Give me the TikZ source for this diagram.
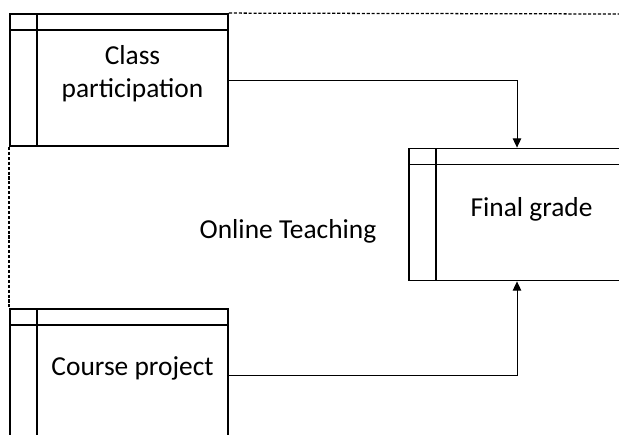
\documentclass[tikz,border=0pt]{standalone}
\usepackage{fontspec}
\setmainfont{Carlito}
\usetikzlibrary{arrows.meta}

\tikzset{
  entity/.style={draw, line width=1.3pt, minimum width=5.45cm, minimum height=3.3cm, inner sep=0pt,
    path picture={
      \draw[line width=1.3pt] ([yshift=-0.4cm]path picture bounding box.north west) -- ([yshift=-0.4cm]path picture bounding box.north east);
      \draw[line width=1.3pt] ([xshift=0.675cm]path picture bounding box.north west) -- ([xshift=0.675cm]path picture bounding box.south west);
    }},
  entitytext/.style={align=center, font=\fontsize{19.5}{23.5}\selectfont},
  flow/.style={->, line width=0.6pt},
  boundary/.style={line width=0.9pt, dash pattern=on 2.2pt off 1.3pt}
}

\begin{document}
\begin{tikzpicture}[>={Triangle[length=6.5pt,width=6pt]}]
  \useasboundingbox (0,0) rectangle (15.475,-10.85);
  \clip (0,0) rectangle (15.475,-10.85);

  % the three boxes
  \node[entity] (partbox) at (2.975,-2.0) {};
  \node[entity] (gradebox) at (12.95,-5.3625) {};
  \node[entity] (projbox) at (2.975,-9.375) {};

  \node[entitytext] (part) at ([xshift=0.3375cm,yshift=0.15cm]partbox.center) {Class\\participation};
  \node[entitytext] (grade) at ([xshift=0.3375cm,yshift=0.14cm]gradebox.center) {Final grade};
  \node[entitytext] (proj) at ([xshift=0.3375cm,yshift=0.17cm]projbox.center) {Course project};

  \node[entitytext] (online) at (7.2,-5.775) {Online Teaching};

  % boundary of the system
  \coordinate (edge) at (15.475,-0.35);
  \draw[boundary] (partbox.north east) -- (edge);
  \draw[boundary] (partbox.south west) -- (projbox.north west);

  % flows into the grade
  \draw[flow] (partbox.east) -| ([xshift=-0.025cm]gradebox.north);
  \draw[flow] (projbox.east) -| ([xshift=-0.025cm]gradebox.south);
\end{tikzpicture}
\end{document}
